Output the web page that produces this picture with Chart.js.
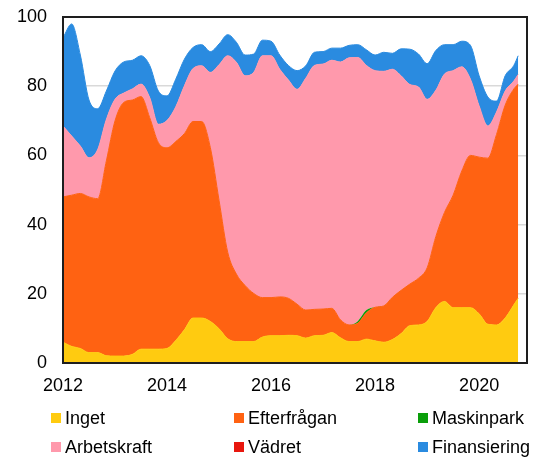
<!DOCTYPE html>
<html>
<head>
<meta charset="utf-8">
<script src="https://cdn.jsdelivr.net/npm/chart.js@4"></script>
<style>
    body { margin: 0; background: #fff; }
    .wrap { position: relative; width: 535px; height: 457px; }
    canvas { display: block; }
    .legend-item { position: absolute; font: 18px "Liberation Sans", Arial, sans-serif; color: #000; line-height: 20px; white-space: nowrap; }
    .legend-item span { position: absolute; width: 10px; height: 10px; left: -14px; top: 5px; }
</style>
</head>
<body>
<div class="wrap">
    <canvas id="chart" width="535" height="457"></canvas>
    <div id="legend"></div>
</div>
<script>
// Dates (every second month, last point Oct 2020)
const dates = [
    '2012-01', '2012-03', '2012-05', '2012-07', '2012-09', '2012-11',
    '2013-01', '2013-03', '2013-05', '2013-07', '2013-09', '2013-11',
    '2014-01', '2014-03', '2014-05', '2014-07', '2014-09', '2014-11',
    '2015-01', '2015-03', '2015-05', '2015-07', '2015-09', '2015-11',
    '2016-01', '2016-03', '2016-05', '2016-07', '2016-09', '2016-11',
    '2017-01', '2017-03', '2017-05', '2017-07', '2017-09', '2017-11',
    '2018-01', '2018-03', '2018-05', '2018-07', '2018-09', '2018-11',
    '2019-01', '2019-03', '2019-05', '2019-07', '2019-09', '2019-11',
    '2020-01', '2020-03', '2020-05', '2020-07', '2020-09', '2020-10'
];

const inget = [6, 4.8, 4.2, 3, 3, 2.1, 2, 2, 2.5, 4, 4, 4, 4.2, 6.5, 9.6, 13, 13, 12,
    9.9, 7, 6.2, 6.2, 6.2, 7.5, 7.9, 7.9, 8, 7.9, 7.2, 7.9, 8, 8.8, 7.3, 6.2, 6.2, 6.9,
    6.4, 6, 6.8, 8.5, 10.8, 11, 12, 16, 17.8, 16, 16, 16, 14.2, 11.2, 11, 13, 16.8, 18.7];
const efterfragan = [42, 43.7, 44.8, 45, 44.5, 56.3, 68, 73.3, 73.5, 73, 66.9, 59.7, 58, 57.5, 56.7, 56.8, 56.8, 50.2,
    37.1, 25, 19.5, 16.2, 13.9, 11.4, 11, 11.2, 10.7, 9.1, 8.1, 7.6, 7.6, 7, 5.2, 4.8, 5.3, 7.6,
    9.7, 10.5, 12.2, 12.5, 12, 13.5, 15.5, 20.5, 25.7, 32.5, 39.5, 44, 45.3, 48, 55, 61.5, 62.4, 61.9];
const maskinpark = [0, 0, 0, 0, 0, 0, 0, 0, 0, 0, 0, 0, 0, 0, 0, 0, 0, 0,
    0, 0, 0, 0, 0, 0, 0, 0, 0, 0, 0, 0, 0, 0, 0, 0, 0.6, 0.8,
    0, 0, 0, 0, 0, 0, 0, 0, 0, 0, 0, 0, 0, 0, 0, 0, 0, 0];
const arbetskraft = [20.5, 17.1, 13.7, 11.3, 14.2, 12, 6.2, 2.7, 3.2, 3.6, 5.8, 5.3, 7.9, 10, 13.8, 15.3, 16.1, 21.8,
    39.2, 56.8, 61.2, 60.6, 63.9, 69.9, 69.9, 65.8, 63.1, 62.1, 67, 70.5, 70.8, 71.7, 74.5, 77.2, 76.2, 70.7,
    68.4, 67.8, 65.9, 62, 57.7, 55.3, 48.7, 42.3, 40, 36, 30.1, 22, 14.8, 9.3, 6.5, 4.1, 2.3, 2.8];
const vadret = [0, 0, 0, 0, 0, 0, 0, 0, 0, 0, 0, 0, 0, 0, 0, 0, 0, 0,
    0, 0, 0, 0, 0, 0, 0, 0, 0, 0, 0, 0, 0, 0, 0, 0, 0, 0,
    0, 0, 0, 0, 0, 0, 0, 0, 0, 0, 0, 0, 0, 0, 0, 0, 0, 0];
const finansiering = [25.5, 32.4, 26.3, 16.7, 11.8, 8.2, 8.2, 9, 8.3, 8.2, 9.3, 9.6, 7.1, 8, 7.7, 6.1, 6.1, 6,
    6, 6.1, 5.8, 6, 5.3, 4.5, 4.2, 4.1, 4.2, 5.4, 3.6, 3.8, 3.6, 3.5, 4, 3.6, 3.7, 4.5,
    4.5, 5.5, 4.6, 7.8, 10.2, 9.5, 10.3, 11.5, 8.5, 7.5, 7.4, 9.8, 8.7, 8.4, 3.2, 4.4, 4.5, 5.4];

const yTicks = [0, 20, 40, 60, 80, 100];
const xTicks = [2012, 2014, 2016, 2018, 2020];

const series = [
    { label: 'Inget', data: inget, color: '#FFCB10', line: true },
    { label: 'Efterfrågan', data: efterfragan, color: '#FF6212', line: true },
    { label: 'Maskinpark', data: maskinpark, color: '#0A9E0A', line: false },
    { label: 'Arbetskraft', data: arbetskraft, color: '#FF99AC', line: true },
    { label: 'Vädret', data: vadret, color: '#E8170E', line: false },
    { label: 'Finansiering', data: finansiering, color: '#2A8BE0', line: true }
];

// legend positions (grid of 3 columns x 2 rows)
const legendCols = [65, 248, 432];
const legendRows = [408, 437];

function toYear(d) {
    const [y, m] = d.split('-').map(Number);
    return y + (m - 1) / 12;
}

const fontSpec = { family: '"Liberation Sans", Arial, sans-serif', size: 18 };

const datasets = series.map((s, i) => ({
    label: s.label,
    data: s.data.map((v, j) => ({ x: toYear(dates[j]), y: v })),
    backgroundColor: s.color,
    borderColor: s.color,
    borderWidth: s.line ? 1 : 0,
    fill: i === 0 ? 'origin' : '-1',
    pointRadius: 0,
    cubicInterpolationMode: 'monotone'
}));

// Border box around the plot area
const frame = {
    id: 'frame',
    afterDatasetsDraw(chart) {
        const { ctx, chartArea: a } = chart;
        ctx.save();
        ctx.strokeStyle = '#1e1e1e';
        ctx.lineWidth = 2;
        ctx.strokeRect(a.left, a.top, a.right - a.left, a.bottom - a.top);
        ctx.restore();
    }
};

const chart = new Chart(document.getElementById('chart').getContext('2d'), {
    type: 'line',
    data: { datasets },
    options: {
        responsive: false,
        animation: false,
        layout: { padding: { top: 17, right: 8, left: 0, bottom: 0 } },
        plugins: { legend: { display: false }, tooltip: { enabled: false } },
        scales: {
            x: {
                type: 'linear',
                min: 2012,
                max: 2020.92,
                grid: { display: false, drawTicks: false },
                border: { display: false },
                afterBuildTicks: scale => {
                    scale.ticks = xTicks.map(v => ({ value: v }));
                },
                ticks: {
                    color: '#000',
                    font: fontSpec,
                    padding: 12,
                    maxRotation: 0,
                    autoSkip: false,
                    callback: v => String(v)
                },
                afterFit: scale => {
                    scale.height = 94;
                    scale.paddingLeft = 0;
                    scale.paddingRight = 0;
                }
            },
            y: {
                stacked: true,
                min: 0,
                max: 100,
                grid: { color: '#d9d9d9', lineWidth: 1.5, drawTicks: false },
                border: { display: false },
                afterBuildTicks: scale => {
                    scale.ticks = yTicks.map(v => ({ value: v }));
                },
                ticks: { color: '#000', font: fontSpec, padding: 16 },
                afterFit: scale => {
                    scale.width = 63;
                    scale.paddingTop = 0;
                    scale.paddingBottom = 0;
                }
            }
        }
    },
    plugins: [frame]
});

// HTML legend
const legend = document.getElementById('legend');
series.forEach((s, i) => {
    const item = document.createElement('div');
    item.className = 'legend-item';
    item.style.left = legendCols[i % 3] + 'px';
    item.style.top = legendRows[Math.floor(i / 3)] + 'px';
    item.innerHTML = `<span style="background:${s.color}"></span>${s.label}`;
    legend.appendChild(item);
});
</script>
</body>
</html>
